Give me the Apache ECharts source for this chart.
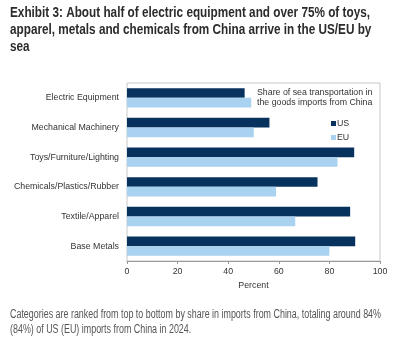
<!DOCTYPE html>
<html><head><meta charset="utf-8">
<script src="https://cdn.jsdelivr.net/npm/echarts@6/dist/echarts.min.js"></script>
<style>html,body{margin:0;padding:0;background:#fff;}#c{width:398px;height:343px;}</style>
</head><body><div id="c"></div>
<script>
const categories = ['Electric Equipment','Mechanical Machinery','Toys/Furniture/Lighting','Chemicals/Plastics/Rubber','Textile/Apparel','Base Metals'];
const usValues = [46.5, 56.3, 89.8, 75.3, 88.2, 90.2];
const euValues = [49.1, 50.1, 83.2, 58.9, 66.5, 80.0];
const xTicks = [0, 20, 40, 60, 80, 100];
const titleLines = ['Exhibit 3: About half of electric equipment and over 75% of toys,', 'apparel, metals and chemicals from China arrive in the US/EU by', 'sea'];
const footLines = ['Categories are ranked from top to bottom by share in imports from China, totaling around 84%', '(84%) of US (EU) imports from China in 2024.'];
const legendTitle = 'Share of sea transportation in\nthe goods imports from China';

const sans = '"Liberation Sans", Arial, sans-serif';
const small = 8.8;
const cv = document.createElement('canvas').getContext('2d');
function fitScale(text, font, target) { cv.font = font; return target / cv.measureText(text).width; }
const titleFont = 'bold 15px ' + sans;
const footFont = '12px ' + sans;
const tScale = fitScale(titleLines[0], titleFont, 360);
const fScale = fitScale(footLines[0], footFont, 371);

const graphics = [];
titleLines.forEach((t, i) => graphics.push({type:'text', x: 10, y: 5 + i*17, scaleX: tScale, style:{text: t, font: titleFont, fill:'#2b2b2b'}}));
footLines.forEach((t, i) => graphics.push({type:'text', x: 10, y: 309 + i*15, scaleX: fScale, style:{text: t, font: footFont, fill:'#555'}}));
graphics.push({type:'text', x: 257, y: 88, style:{text: legendTitle, font: small + 'px ' + sans, fill:'#333', lineHeight: 9.5}});

const chart = echarts.init(document.getElementById('c'));
chart.setOption({
  animation: false,
  graphic: graphics,
  legend: {
    orient: 'vertical', left: 326, top: 114, itemGap: 5,
    icon: 'rect', itemWidth: 5, itemHeight: 5,
    textStyle: {fontSize: small, color: '#333', fontFamily: sans, padding: [0,0,0,-4]},
    data: ['US','EU']
  },
  grid: {left: 127, right: 18, top: 83, bottom: 82, show: true, borderColor: '#c8c8c8', borderWidth: 1},
  xAxis: {
    type: 'value', min: 0, max: 100, interval: 20,
    name: 'Percent', nameLocation: 'middle', nameGap: 13,
    nameTextStyle: {fontSize: small, color: '#333', fontFamily: sans},
    axisLine: {show: true, lineStyle: {color: '#999'}},
    axisTick: {show: true, length: 3, lineStyle: {color: '#999'}},
    axisLabel: {fontSize: small, color: '#333', margin: 6, fontFamily: sans, formatter: v => xTicks.includes(v) ? String(v) : ''},
    splitLine: {show: false}
  },
  yAxis: {
    type: 'category', data: categories, inverse: true,
    axisLine: {show: false}, axisTick: {show: false},
    axisLabel: {fontSize: small, color: '#333', margin: 8, fontFamily: sans}
  },
  series: [
    {name: 'US', type: 'bar', data: usValues, itemStyle: {color: '#08325e'}, barGap: '0%', barCategoryGap: '35%'},
    {name: 'EU', type: 'bar', data: euValues, itemStyle: {color: '#a9d2f1'}, barGap: '0%', barCategoryGap: '35%'}
  ]
});
</script></body></html>
